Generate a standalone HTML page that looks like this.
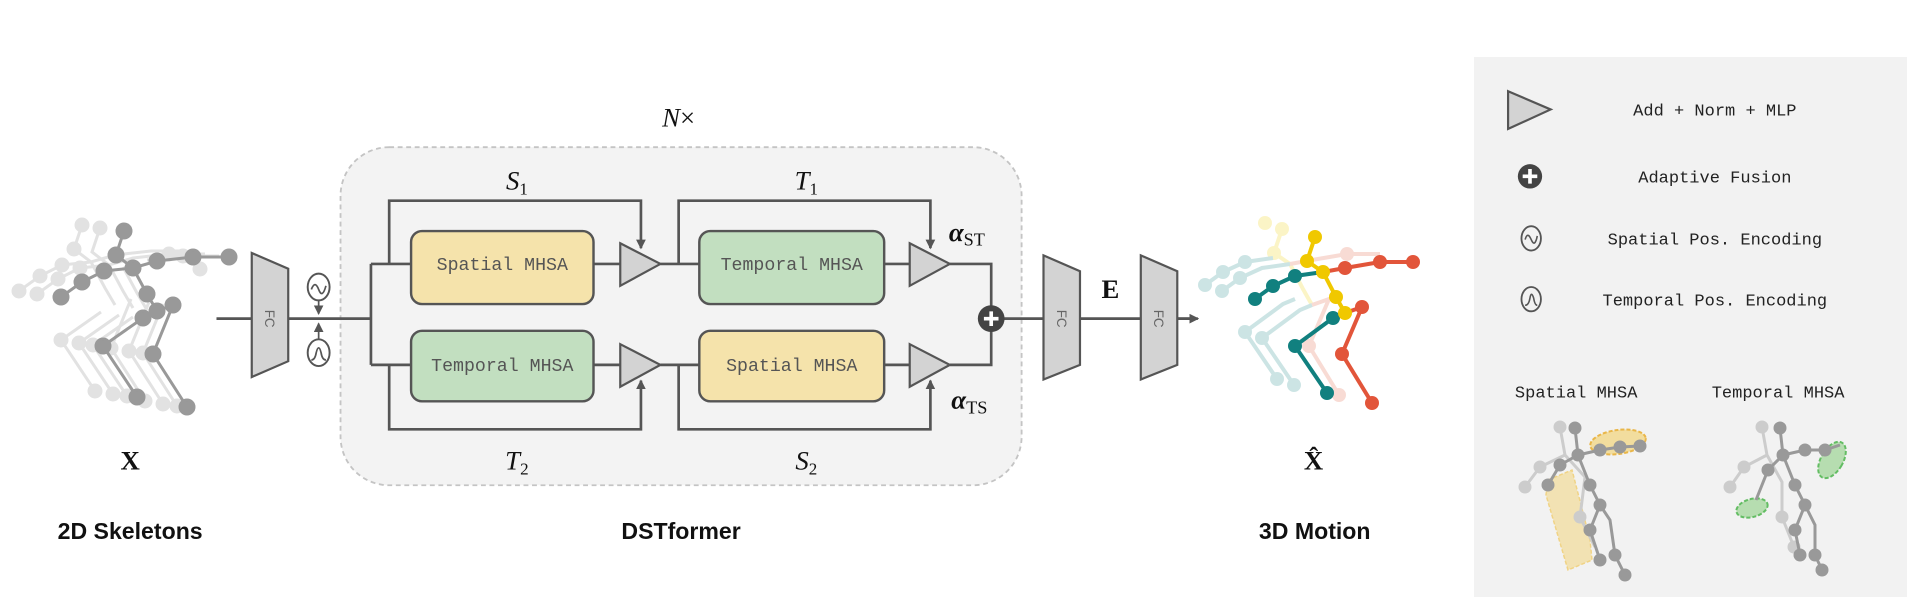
<!DOCTYPE html>
<html><head><meta charset="utf-8"><style>
html,body{margin:0;padding:0;background:#fff;}
svg{display:block;}
.m{font-family:"Liberation Mono",monospace;font-size:15px;fill:#555;text-anchor:middle;}
.lg{font-family:"Liberation Mono",monospace;font-size:14px;fill:#222;text-anchor:middle;}
.s{font-family:"Liberation Serif",serif;font-style:italic;font-size:22px;fill:#111;text-anchor:middle;}
.u{font-family:"Liberation Serif",serif;font-style:normal;font-weight:bold;font-size:22px;fill:#111;text-anchor:middle;}
.b{font-family:"Liberation Sans",sans-serif;font-weight:bold;font-size:19px;fill:#111;text-anchor:middle;}
</style></head><body>
<svg width="1907" height="597" viewBox="0 0 1907 597" xmlns="http://www.w3.org/2000/svg">
<defs>
<marker id="ar" markerWidth="8" markerHeight="8" refX="7" refY="4" orient="auto" markerUnits="userSpaceOnUse"><path d="M0,0 L8,4 L0,8 z" fill="#555"/></marker>
</defs>
<rect x="1474" y="57" width="433" height="540" fill="#f2f2f2"/>
<g transform="scale(1.2162)">
<rect x="280" y="121" width="560" height="278" rx="40" fill="#f3f3f3" stroke="#c4c4c4" stroke-width="1.5" stroke-dasharray="4,3"/>
<text x="558" y="104" class="s" font-size="20">N<tspan style="font-style:normal">×</tspan></text>
<g fill="none" stroke="#555" stroke-width="2.2">
<path d="M178,262 H305 M305,217 V300 M305,217 H338 M305,300 H338"/>
<path d="M320,217 V165 H527 V204" marker-end="url(#ar)"/>
<path d="M558,217 V165 H765 V204" marker-end="url(#ar)"/>
<path d="M320,300 V353 H527 V313" marker-end="url(#ar)"/>
<path d="M558,300 V353 H765 V313" marker-end="url(#ar)"/>
<path d="M488,217 H512 M543,217 H575 M727,217 H750 M488,300 H512 M543,300 H575 M727,300 H750"/>
<path d="M781,217 H815 V300 H781"/>
<path d="M815,262 H858 M888,262 H938 M968,262 H983" />
</g>
<path d="M968,262 H985" stroke="#555" stroke-width="2" marker-end="url(#ar)"/>
<rect x="338" y="190" width="150" height="60" rx="9" fill="#f5e3ab" stroke="#555" stroke-width="2"/>
<text x="413" y="222" class="m">Spatial MHSA</text>
<rect x="575" y="190" width="152" height="60" rx="9" fill="#c2dfc0" stroke="#555" stroke-width="2"/>
<text x="651" y="222" class="m">Temporal MHSA</text>
<rect x="338" y="272" width="150" height="58" rx="9" fill="#c2dfc0" stroke="#555" stroke-width="2"/>
<text x="413" y="305" class="m">Temporal MHSA</text>
<rect x="575" y="272" width="152" height="58" rx="9" fill="#f5e3ab" stroke="#555" stroke-width="2"/>
<text x="651" y="305" class="m">Spatial MHSA</text>
<g fill="#d3d3d3" stroke="#555" stroke-width="1.8">
<path d="M510,200 L543,217 L510,235 z"/><path d="M748,200 L781,217 L748,235 z"/>
<path d="M510,283 L543,300 L510,318 z"/><path d="M748,283 L781,300 L748,318 z"/>
<path d="M207,208 L237,221 L237,297 L207,310 z"/>
<path d="M858,210 L888,223 L888,300 L858,312 z"/>
<path d="M938,210 L968,223 L968,300 L938,312 z"/>
</g>
<g font-family="Liberation Sans,sans-serif" font-size="11" fill="#666" text-anchor="middle">
<text transform="translate(218,262) rotate(90)">FC</text>
<text transform="translate(869,262) rotate(90)">FC</text>
<text transform="translate(949,262) rotate(90)">FC</text>
</g>
<circle cx="815" cy="262" r="11" fill="#444"/>
<path d="M815,256 V268 M809,262 H821" stroke="#fff" stroke-width="3"/>
<g fill="#fff" stroke="#555" stroke-width="1.6">
<ellipse cx="262" cy="236" rx="9" ry="11"/><ellipse cx="262" cy="290" rx="9" ry="11"/>
</g>
<path d="M256,238 q3,-8 6,0 q3,8 6,-3" fill="none" stroke="#555" stroke-width="1.4"/>
<path d="M256,296 q3,0 4,-6 q2,-8 4,0 q1,6 4,6" fill="none" stroke="#555" stroke-width="1.4"/>
<path d="M262,247 V258" stroke="#555" stroke-width="1.4" marker-end="url(#ar)"/>
<path d="M262,279 V266" stroke="#555" stroke-width="1.4" marker-end="url(#ar)"/>
<text x="425" y="156" class="s">S<tspan font-size="14" style="font-style:normal" dy="4">1</tspan></text>
<text x="663" y="156" class="s">T<tspan font-size="14" style="font-style:normal" dy="4">1</tspan></text>
<text x="425" y="386" class="s">T<tspan font-size="14" style="font-style:normal" dy="4">2</tspan></text>
<text x="663" y="386" class="s">S<tspan font-size="14" style="font-style:normal" dy="4">2</tspan></text>
<text x="795" y="198" class="s" style="font-weight:bold">α<tspan font-size="15" style="font-style:normal;font-weight:normal" dy="4">ST</tspan></text>
<text x="797" y="336" class="s" style="font-weight:bold">α<tspan font-size="15" style="font-style:normal;font-weight:normal" dy="4">TS</tspan></text>
<text x="913" y="245" class="u">E</text>
<text x="107" y="386" class="u">X</text>
<text x="1080" y="386" class="u">X̂</text>
<text x="107" y="443" class="b">2D Skeletons</text>
<text x="560" y="443" class="b">DSTformer</text>
<text x="1081" y="443" class="b">3D Motion</text>
<path d="M1240,75 L1275,90 L1240,106 z" fill="#d3d3d3" stroke="#555" stroke-width="1.8"/>
<text x="1410" y="95" class="lg">Add + Norm + MLP</text>
<circle cx="1258" cy="145" r="10" fill="#444"/>
<path d="M1258,139 V151 M1252,145 H1264" stroke="#fff" stroke-width="3"/>
<text x="1410" y="150" class="lg">Adaptive Fusion</text>
<ellipse cx="1259" cy="196" rx="8" ry="10" fill="none" stroke="#555" stroke-width="1.5"/>
<path d="M1254,197 q2,-7 5,0 q3,7 5,-3" fill="none" stroke="#555" stroke-width="1.3"/>
<text x="1410" y="201" class="lg">Spatial Pos. Encoding</text>
<ellipse cx="1259" cy="246" rx="8" ry="10" fill="none" stroke="#555" stroke-width="1.5"/>
<path d="M1254,251 q3,0 4,-6 q1,-6 3,0 q1,6 3,6" fill="none" stroke="#555" stroke-width="1.3"/>
<text x="1410" y="251" class="lg">Temporal Pos. Encoding</text>
<text x="1296" y="327" class="lg">Spatial MHSA</text>
<text x="1462" y="327" class="lg">Temporal MHSA</text>
</g>
<!-- left skeleton -->
<g stroke-width="3" fill="#e2e2e2" stroke="#e2e2e2">
<g transform="translate(-42,-6)"><path d="M124,231 L116,255 L133,268 L157,261 L193,257 L229,257 M133,268 L104,271 L82,282 L61,297 M133,268 L147,294 L157,311 M143,318 L103,346 L137,397 M173,305 L153,354 L187,407" fill="none"/>
<circle cx="124" cy="231" r="6"/><circle cx="116" cy="255" r="6"/><circle cx="104" cy="271" r="6"/><circle cx="82" cy="282" r="6"/><circle cx="61" cy="297" r="6"/><circle cx="103" cy="346" r="6"/><circle cx="137" cy="397" r="6"/><circle cx="153" cy="354" r="6"/><circle cx="187" cy="407" r="6"/><circle cx="157" cy="261" r="6"/></g>
<g transform="translate(-24,-3)"><path d="M124,231 L116,255 L133,268 L157,261 L193,257 L229,257 M133,268 L104,271 L82,282 L61,297 M133,268 L147,294 L157,311 M143,318 L103,346 L137,397 M173,305 L153,354 L187,407" fill="none"/>
<circle cx="124" cy="231" r="6"/><circle cx="104" cy="271" r="6"/><circle cx="82" cy="282" r="6"/><circle cx="61" cy="297" r="6"/><circle cx="103" cy="346" r="6"/><circle cx="137" cy="397" r="6"/><circle cx="153" cy="354" r="6"/><circle cx="187" cy="407" r="6"/><circle cx="193" cy="257" r="6"/></g>
<g transform="translate(-10,-1)"><path d="M133,268 L147,294 L157,311 M143,318 L103,346 L137,397 M173,305 L153,354 L187,407 M157,261 L193,257 L229,257" fill="none"/>
<circle cx="103" cy="346" r="6"/><circle cx="137" cy="397" r="6"/><circle cx="153" cy="354" r="6"/><circle cx="187" cy="407" r="6"/><circle cx="193" cy="257" r="6"/><circle cx="210" cy="270" r="6"/></g>
</g>
<g stroke="#999" stroke-width="3" fill="#999">
<path d="M124,231 L116,255 L133,268 L157,261 L193,257 L229,257 M133,268 L104,271 L82,282 L61,297 M133,268 L147,294 L157,311 L143,318 L103,346 L137,397 M157,311 L173,305 L153,354 L187,407" fill="none"/>
<circle cx="124" cy="231" r="7"/><circle cx="116" cy="255" r="7"/><circle cx="133" cy="268" r="7"/><circle cx="157" cy="261" r="7"/><circle cx="193" cy="257" r="7"/><circle cx="229" cy="257" r="7"/><circle cx="104" cy="271" r="7"/><circle cx="82" cy="282" r="7"/><circle cx="61" cy="297" r="7"/><circle cx="147" cy="294" r="7"/><circle cx="157" cy="311" r="7"/><circle cx="143" cy="318" r="7"/><circle cx="173" cy="305" r="7"/><circle cx="103" cy="346" r="7"/><circle cx="137" cy="397" r="7"/><circle cx="153" cy="354" r="7"/><circle cx="187" cy="407" r="7"/>
</g>
<!-- 3D motion -->
<g opacity="0.22" stroke-width="4">
<g transform="translate(-33,-8)">
<path d="M1315,237 L1307,261 L1323,272 L1336,297 L1345,313" stroke="#f0d000" fill="none"/>
<path d="M1323,272 L1295,276 L1273,286 L1255,299 M1345,313 L1333,318 L1295,346 L1327,393" stroke="#1a8a8a" fill="none"/>
<path d="M1323,272 L1345,268 L1380,262 L1413,262 M1345,313 L1362,307 L1342,354 L1372,403" stroke="#e06040" fill="none"/>
<g fill="#1a8a8a"><circle cx="1273" cy="286" r="7"/><circle cx="1255" cy="299" r="7"/><circle cx="1295" cy="346" r="7"/><circle cx="1327" cy="393" r="7"/></g>
<g fill="#f0d000"><circle cx="1315" cy="237" r="7"/><circle cx="1307" cy="261" r="7"/></g>
<g fill="#e06040"><circle cx="1380" cy="262" r="7"/><circle cx="1342" cy="354" r="7"/><circle cx="1372" cy="403" r="7"/></g>
</g>
<g transform="translate(-50,-14)">
<path d="M1323,272 L1295,276 L1273,286 L1255,299 M1345,313 L1333,318 L1295,346 L1327,393" stroke="#1a8a8a" fill="none"/>
<g fill="#1a8a8a"><circle cx="1273" cy="286" r="7"/><circle cx="1255" cy="299" r="7"/><circle cx="1295" cy="346" r="7"/><circle cx="1327" cy="393" r="7"/><circle cx="1295" cy="276" r="7"/></g>
<g fill="#f0d000"><circle cx="1315" cy="237" r="7"/></g>
</g>
</g>
<g stroke-width="4" fill="none">
<path d="M1323,272 L1295,276 L1273,286 L1255,299 M1345,313 L1333,318 L1295,346 L1327,393" stroke="#11807f"/>
<path d="M1323,272 L1345,268 L1380,262 L1413,262 M1345,313 L1362,307 L1342,354 L1372,403" stroke="#e2553a"/>
<path d="M1315,237 L1307,261 L1323,272 L1336,297 L1345,313" stroke="#f0c800"/>
</g>
<g fill="#11807f"><circle cx="1295" cy="276" r="7"/><circle cx="1273" cy="286" r="7"/><circle cx="1255" cy="299" r="7"/><circle cx="1333" cy="318" r="7"/><circle cx="1295" cy="346" r="7"/><circle cx="1327" cy="393" r="7"/></g>
<g fill="#e2553a"><circle cx="1345" cy="268" r="7"/><circle cx="1380" cy="262" r="7"/><circle cx="1413" cy="262" r="7"/><circle cx="1362" cy="307" r="7"/><circle cx="1342" cy="354" r="7"/><circle cx="1372" cy="403" r="7"/></g>
<g fill="#f0c800"><circle cx="1315" cy="237" r="7"/><circle cx="1307" cy="261" r="7"/><circle cx="1323" cy="272" r="7"/><circle cx="1336" cy="297" r="7"/><circle cx="1345" cy="313" r="7"/></g>
<!-- legend mini skeletons -->
<g>
<ellipse cx="1618" cy="442" rx="28" ry="12" transform="rotate(-8 1618 442)" fill="#f3d98a" opacity="0.8" stroke="#e8a820" stroke-dasharray="4,2" stroke-width="2"/>
<path d="M1548,480 L1572,470 L1590,540 L1592,560 L1568,570 L1546,495 z" fill="#f3d98a" opacity="0.6" stroke="#f0c040" stroke-dasharray="4,2" stroke-width="1.5"/>
<g stroke="#ccc" stroke-width="3" fill="#ccc" transform="translate(-15,-3)">
<path d="M1575,430 L1580,458 L1555,470 L1540,490 M1580,458 L1600,480 L1595,520 L1610,550" fill="none"/>
<circle cx="1575" cy="430" r="5"/><circle cx="1555" cy="470" r="5"/><circle cx="1540" cy="490" r="5"/><circle cx="1595" cy="520" r="5"/>
</g>
<g stroke="#999" stroke-width="3" fill="#999">
<path d="M1575,428 L1578,455 L1600,450 L1620,447 L1640,446 M1578,455 L1560,465 L1548,485 M1578,455 L1590,485 L1600,505 L1590,530 L1600,560 M1600,505 L1610,520 L1615,555 L1625,575" fill="none"/>
<circle cx="1575" cy="428" r="5"/><circle cx="1578" cy="455" r="5"/><circle cx="1600" cy="450" r="5"/><circle cx="1620" cy="447" r="5"/><circle cx="1640" cy="446" r="5"/><circle cx="1560" cy="465" r="5"/><circle cx="1548" cy="485" r="5"/><circle cx="1590" cy="485" r="5"/><circle cx="1600" cy="505" r="5"/><circle cx="1590" cy="530" r="5"/><circle cx="1600" cy="560" r="5"/><circle cx="1615" cy="555" r="5"/><circle cx="1625" cy="575" r="5"/>
</g>
<ellipse cx="1832" cy="460" rx="11" ry="20" transform="rotate(30 1832 460)" fill="#a8d8a0" opacity="0.8" stroke="#40b040" stroke-dasharray="4,2" stroke-width="2"/>
<ellipse cx="1752" cy="508" rx="16" ry="9" transform="rotate(-15 1752 508)" fill="#a8d8a0" opacity="0.8" stroke="#40b040" stroke-dasharray="4,2" stroke-width="2"/>
<g stroke="#ccc" stroke-width="3" fill="#ccc" transform="translate(-18,-3)">
<path d="M1780,430 L1785,458 L1762,470 L1748,490 M1785,458 L1800,485 L1800,520 L1812,550" fill="none"/>
<circle cx="1780" cy="430" r="5"/><circle cx="1762" cy="470" r="5"/><circle cx="1748" cy="490" r="5"/><circle cx="1800" cy="520" r="5"/><circle cx="1812" cy="550" r="5"/>
</g>
<g stroke="#999" stroke-width="3" fill="#999">
<path d="M1780,428 L1783,455 L1805,450 L1825,450 L1840,445 M1783,455 L1768,470 L1756,500 M1783,455 L1795,485 L1805,505 L1795,530 L1800,555 M1805,505 L1815,525 L1815,555 L1822,570" fill="none"/>
<circle cx="1780" cy="428" r="5"/><circle cx="1783" cy="455" r="5"/><circle cx="1805" cy="450" r="5"/><circle cx="1825" cy="450" r="5"/><circle cx="1768" cy="470" r="5"/><circle cx="1795" cy="485" r="5"/><circle cx="1805" cy="505" r="5"/><circle cx="1795" cy="530" r="5"/><circle cx="1800" cy="555" r="5"/><circle cx="1815" cy="555" r="5"/><circle cx="1822" cy="570" r="5"/>
</g>
</g>
</svg>
</body></html>
